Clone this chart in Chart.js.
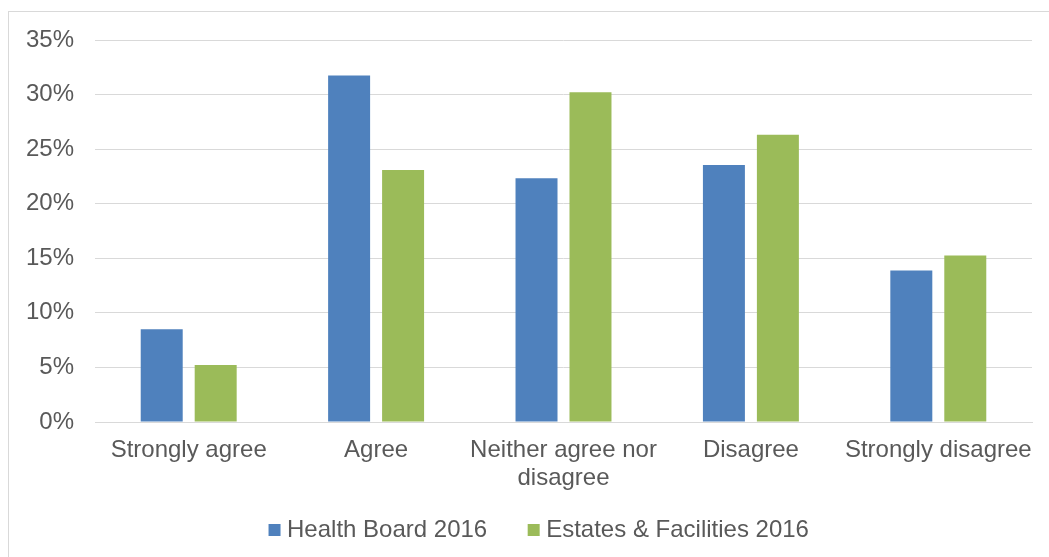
<!DOCTYPE html>
<html>
<head>
<meta charset="utf-8">
<script src="https://cdn.jsdelivr.net/npm/chart.js@4/dist/chart.umd.min.js"></script>
<style>
  html, body { margin: 0; padding: 0; background: #fff; overflow: hidden; }
  #wrap { position: relative; width: 1049px; height: 557px; }
  #frame { position: absolute; left: 8px; top: 11px; width: 1100px; height: 600px;
           border-top: 1px solid #d9d9d9; border-left: 1px solid #d9d9d9; box-sizing: border-box; }
  #c { position: absolute; left: 0; top: 0; }
</style>
</head>
<body>
<div id="wrap">
  <div id="frame"></div>
  <canvas id="c" width="1049" height="557"></canvas>
</div>
<script>
const categories = ["Strongly agree", "Agree", ["Neither agree nor", "disagree"], "Disagree", "Strongly disagree"];
const healthBoard2016 = [8.5, 31.75, 22.33, 23.55, 13.88];
const estatesFacilities2016 = [5.22, 23.09, 30.21, 26.32, 15.26];
const seriesNames = ["Health Board 2016", "Estates & Facilities 2016"];
const yTicks = { min: 0, max: 35, step: 5 };

const FONT = "'Liberation Sans', Arial, sans-serif";
const TXT = "#595959";

const legendShift = {
  id: 'legendShift',
  beforeDraw(chart) {
    const l = chart.legend;
    if (l) {
      l.left = 51;
      l.top = 472;
      if (typeof l.adjustHitBoxes === 'function') l.adjustHitBoxes();
    }
  }
};

new Chart(document.getElementById('c'), {
  type: 'bar',
  data: {
    labels: categories,
    datasets: [
      { label: seriesNames[0], data: healthBoard2016, backgroundColor: '#4f81bd', borderWidth: 0,
        categoryPercentage: 0.576, barPercentage: 0.778 },
      { label: seriesNames[1], data: estatesFacilities2016, backgroundColor: '#9bbb59', borderWidth: 0,
        categoryPercentage: 0.576, barPercentage: 0.778 }
    ]
  },
  plugins: [legendShift],
  options: {
    responsive: false,
    animation: false,
    events: [],
    layout: { padding: { top: 40, right: 17, left: 0, bottom: 15 } },
    plugins: {
      tooltip: { enabled: false },
      legend: {
        position: 'bottom',
        maxHeight: 50,
        labels: {
          font: { family: FONT, size: 24 },
          color: TXT,
          usePointStyle: true,
          pointStyle: 'rect',
          boxWidth: 1,
          boxHeight: 12,
          padding: 46
        }
      }
    },
    scales: {
      x: {
        grid: { display: false, drawTicks: false },
        border: { color: '#d9d9d9', width: 1 },
        ticks: {
          font: { family: FONT, size: 24, lineHeight: 1.15 },
          color: TXT, maxRotation: 0, minRotation: 0, autoSkip: false, padding: 15
        },
        afterFit: (s) => { s.height = 70; }
      },
      y: {
        min: yTicks.min, max: yTicks.max,
        grid: { color: '#d9d9d9', lineWidth: 1, drawTicks: false },
        border: { display: false },
        ticks: {
          stepSize: yTicks.step,
          font: { family: FONT, size: 24 },
          color: TXT, padding: 21,
          callback: (v) => v + '%'
        },
        afterFit: (s) => { s.width = 95; }
      }
    }
  }
});
</script>
</body>
</html>
